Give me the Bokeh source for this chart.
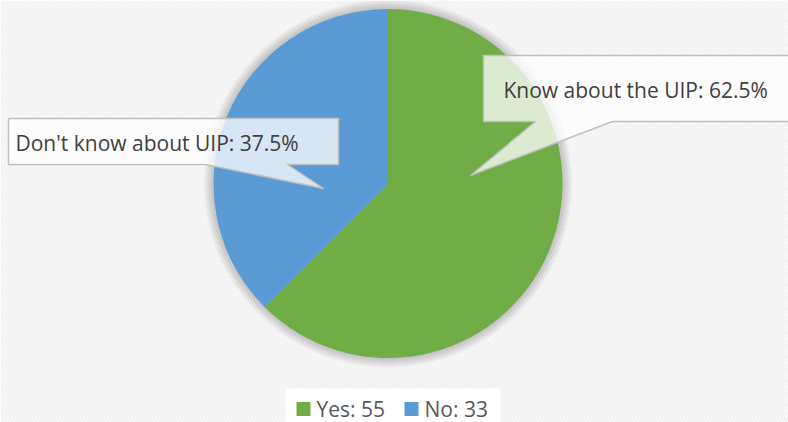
import math
from bokeh.plotting import figure
from bokeh.models import Range1d, ColumnDataSource, Label
from bokeh.embed import file_html
from bokeh.resources import INLINE

# ---- data ----
categories = ["Yes", "No"]
values = [55, 33]
colors = ["#70ad47", "#5b9bd5"]
callout_texts = ["Know about the UIP: 62.5%", "Don't know about UIP: 37.5%"]
legend_texts = ["Yes: 55", "No: 33"]

W, H = 788, 422


def X(x):
    return x


def Y(y):
    return H - y


p = figure(width=W, height=H, output_backend="svg", toolbar_location=None,
           x_range=Range1d(0, W), y_range=Range1d(0, H), min_border=0)
p.axis.visible = False
p.grid.visible = False
p.outline_line_color = None
p.background_fill_color = "white"
p.border_fill_color = "white"

# striped background
p.quad(left=[p.x_range.start], right=[p.x_range.end], bottom=[p.y_range.start], top=[p.y_range.end],
       fill_alpha=0, line_color=None, hatch_pattern="\\", hatch_color="#f0f0f0",
       hatch_scale=6, hatch_weight=2)

cx, cy, R = X(387.5), Y(183), 174.5

# soft glow/shadow around the pie
for k in range(10, 0, -1):
    p.circle(x=[cx], y=[cy], radius=R + k, fill_color="black", fill_alpha=0.02, line_color=None)

# pie wedges (clockwise from 12 o'clock)
total = sum(values)
starts, ends = [], []
a = math.pi / 2
for v in values:
    starts.append(a)
    a = a - 2 * math.pi * v / total
    ends.append(a)
src = ColumnDataSource(dict(start=starts, end=ends, color=colors, cat=categories))
p.wedge(x=cx, y=cy, radius=R, start_angle="start", end_angle="end", direction="clock",
        fill_color="color", line_color=None, source=src)

# callouts (box + tail), layout in reference pixels
callouts = [
    dict(box=(483, 55, 830, 121), base=(535, 612), tip=(470, 175), text_x=503, text_y=89),
    dict(box=(8, 118, 338, 164), base=(205, 287), tip=(323, 188), text_x=15, text_y=142),
]
for c, txt in zip(callouts, callout_texts):
    l, t, r, b = c["box"]
    b0, b1 = c["base"]
    tx, ty = c["tip"]
    xs = [X(l), X(r), X(r), X(b1), X(tx), X(b0), X(l)]
    ys = [Y(t), Y(t), Y(b), Y(b), Y(ty), Y(b), Y(b)]
    p.patch(xs, ys, fill_color="white", fill_alpha=0.75, line_color="#bfbfbf", line_width=1.5)
    p.add_layout(Label(x=X(c["text_x"]), y=Y(c["text_y"]), text=txt, text_font="Open Sans",
                       text_font_size="21px", text_color="#404040", text_align="left",
                       text_baseline="middle"))

# legend
p.quad(left=[X(285)], right=[X(500)], bottom=[Y(422)], top=[Y(388)], fill_color="white",
       line_color=None)
leg_marker_x = [303, 411]
leg_text_x = [316, 424]
ly = 408.5
p.scatter(x=[X(v) for v in leg_marker_x], y=[Y(ly)] * 2, marker="square", size=14,
          fill_color=colors, line_color=None)
for tx, txt in zip(leg_text_x, legend_texts):
    p.add_layout(Label(x=X(tx), y=Y(ly), text=txt, text_font="Open Sans", text_font_size="21px",
                       text_color="#595959", text_align="left", text_baseline="middle"))

open("out.html", "w").write(file_html(p, INLINE))
